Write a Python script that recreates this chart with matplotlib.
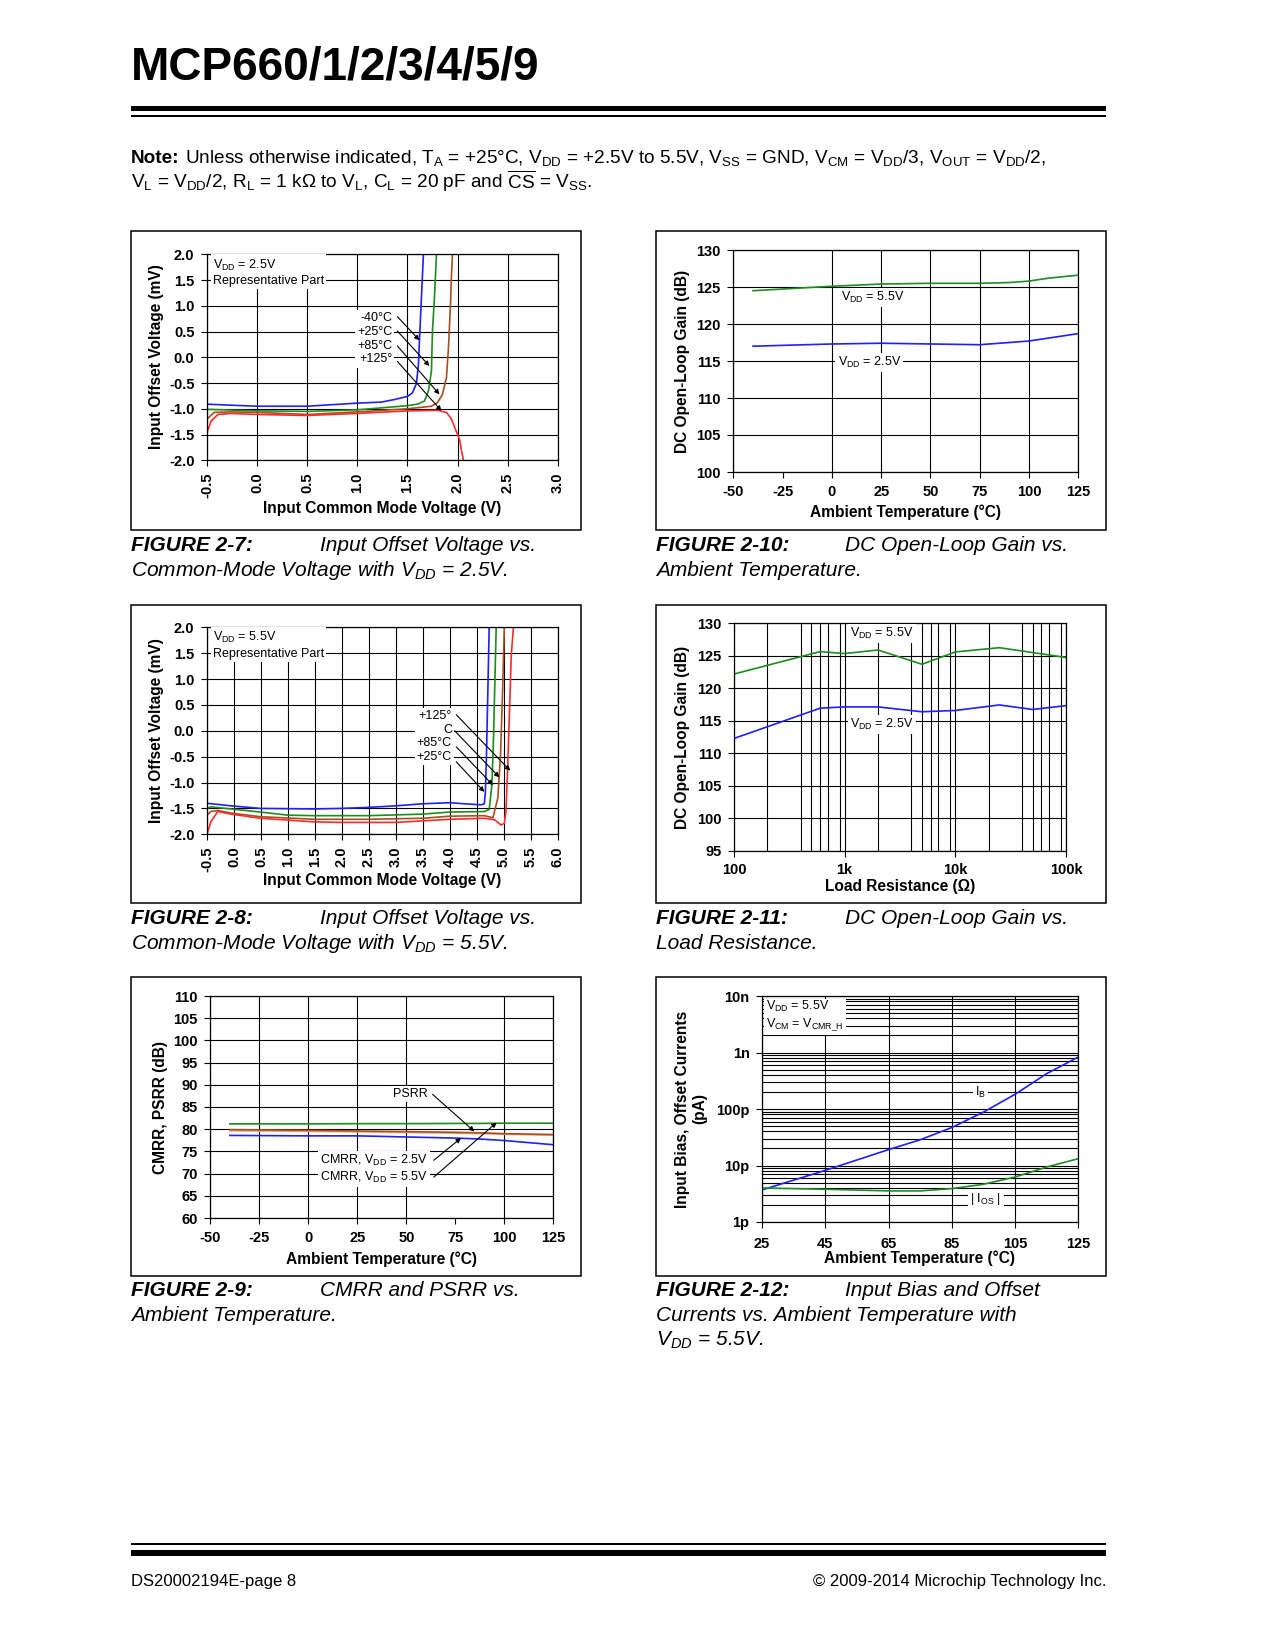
"""MCP660 datasheet page 8: six typical performance curves."""

import matplotlib
matplotlib.use("Agg")
import matplotlib.pyplot as plt  # noqa: E402
from matplotlib.patches import Rectangle  # noqa: E402

plt.rcParams["font.family"] = ["Liberation Sans", "DejaVu Sans"]
plt.rcParams["mathtext.default"] = "regular"

W, H = 1275, 1650

BLUE = "#1f1fff"
GREEN = "#1e8c1e"
BROWN = "#a5501e"
RED = "#ff2a2a"
SALMON = "#f2a07a"

# ---- Figure 2-7: Vos vs Vcm, VDD = 2.5V
f7_x_m40 = [-0.5, -0.26, 0.0, 0.5, 1.0, 1.24, 1.37, 1.5, 1.55, 1.59, 1.61, 1.62, 1.64, 1.66]
f7_y_m40 = [-0.91, -0.93, -0.95, -0.95, -0.89, -0.87, -0.82, -0.76, -0.69, -0.51, -0.14, 0.32, 1.16, 2.0]
f7_x_25 = [-0.5, 0.0, 0.5, 1.0, 1.5, 1.60, 1.67, 1.71, 1.74, 1.75, 1.77, 1.79]
f7_y_25 = [-1.01, -1.04, -1.05, -1.02, -0.94, -0.91, -0.85, -0.65, -0.27, 0.51, 1.16, 2.0]
f7_x_85 = [-0.5, -0.43, -0.26, 0.0, 0.5, 1.0, 1.5, 1.74, 1.80, 1.85, 1.89, 1.91, 1.93, 1.94, 1.95]
f7_y_85 = [-1.20, -1.07, -1.06, -1.07, -1.11, -1.06, -1.0, -0.95, -0.88, -0.72, -0.39, 0.19, 1.03, 1.61, 2.0]
f7_x_125 = [-0.5, -0.46, -0.39, -0.26, 0.0, 0.5, 1.0, 1.5, 1.80, 1.89, 1.94, 1.98, 2.02, 2.04, 2.06]
f7_y_125 = [-1.46, -1.24, -1.11, -1.09, -1.11, -1.13, -1.09, -1.04, -1.03, -1.07, -1.20, -1.40, -1.59, -1.82, -2.0]
f7_xticks = [-0.5, 0.0, 0.5, 1.0, 1.5, 2.0, 2.5, 3.0]
f7_xlabels = ["-0.5", "0.0", "0.5", "1.0", "1.5", "2.0", "2.5", "3.0"]

# ---- Figure 2-8: Vos vs Vcm, VDD = 5.5V
f8_x_m40 = [-0.5, -0.055, 0.49, 1.49, 1.98, 2.49, 3.0, 3.5, 4.0, 4.27, 4.58, 4.64, 4.66, 4.68, 4.70, 4.73]
f8_y_m40 = [-1.40, -1.45, -1.50, -1.51, -1.50, -1.48, -1.45, -1.41, -1.39, -1.41, -1.43, -1.41, -1.18, -0.47, 0.50, 2.0]
f8_x_25 = [-0.5, -0.43, -0.055, 0.49, 1.0, 1.49, 2.49, 3.5, 4.0, 4.64, 4.73, 4.78, 4.81, 4.84, 4.86]
f8_y_25 = [-1.50, -1.47, -1.51, -1.57, -1.63, -1.64, -1.64, -1.61, -1.57, -1.56, -1.52, -1.05, -0.15, 1.14, 2.0]
f8_x_85 = [-0.5, -0.43, -0.30, -0.055, 0.49, 1.49, 2.49, 3.5, 4.0, 4.64, 4.80, 4.89, 4.94, 4.98, 5.01]
f8_y_85 = [-1.63, -1.56, -1.54, -1.59, -1.66, -1.71, -1.71, -1.69, -1.65, -1.64, -1.68, -1.30, -0.47, 0.82, 2.0]
f8_x_125 = [-0.5, -0.43, -0.30, -0.055, 0.49, 1.49, 1.98, 3.0, 4.0, 4.64, 4.83, 4.95, 5.01, 5.04, 5.07, 5.11, 5.14, 5.18]
f8_y_125 = [-2.0, -1.76, -1.56, -1.61, -1.69, -1.76, -1.77, -1.77, -1.71, -1.69, -1.72, -1.82, -1.79, -1.56, -0.79, 0.50, 1.47, 2.0]
f8_xticks = [-0.5, 0.0, 0.5, 1.0, 1.5, 2.0, 2.5, 3.0, 3.5, 4.0, 4.5, 5.0, 5.5, 6.0]
f8_xlabels = ["-0.5", "0.0", "0.5", "1.0", "1.5", "2.0", "2.5", "3.0", "3.5", "4.0", "4.5", "5.0", "5.5", "6.0"]

vos_yticks = [-2.0, -1.5, -1.0, -0.5, 0.0, 0.5, 1.0, 1.5, 2.0]
vos_ylabels = ["-2.0", "-1.5", "-1.0", "-0.5", "0.0", "0.5", "1.0", "1.5", "2.0"]

# ---- Figure 2-10: Aol vs temperature
f10_temp = [-40, 0, 25, 50, 75, 90, 100, 110, 125]
f10_aol_55 = [124.5, 125.1, 125.4, 125.5, 125.5, 125.6, 125.8, 126.2, 126.6]
f10_aol_25 = [117.0, 117.3, 117.4, 117.3, 117.2, 117.5, 117.7, 118.1, 118.7]

temp_ticks = [-50, -25, 0, 25, 50, 75, 100, 125]
temp_labels = ["-50", "-25", "0", "25", "50", "75", "100", "125"]

# ---- Figure 2-11: Aol vs load resistance
f11_rl = [100, 600, 1000, 2000, 5000, 10000, 25000, 50000, 100000]
f11_aol_55 = [122.2, 125.65, 125.35, 125.9, 123.7, 125.6, 126.25, 125.5, 124.75]
f11_aol_25 = [112.3, 116.95, 117.15, 117.15, 116.4, 116.6, 117.45, 116.75, 117.35]
f11_xticks = [100, 1000, 10000, 100000]
f11_xlabels = ["100", "1k", "10k", "100k"]
f11_minor = [200, 400, 500, 600, 700, 900, 2000, 4000, 5000, 6000, 7000, 9000,
             20000, 40000, 50000, 60000, 70000, 90000]

# ---- Figure 2-9: CMRR, PSRR vs temperature
f9_temp = [-40, 0, 25, 50, 75, 87, 100, 125]
f9_cmrr_55 = [81.2, 81.2, 81.25, 81.25, 81.3, 81.3, 81.35, 81.35]
f9_psrr = [79.9, 79.75, 79.6, 79.45, 79.3, 79.2, 79.0, 78.8]
f9_psrr_b = [79.65, 79.5, 79.4, 79.25, 79.1, 79.0, 78.85, 78.65]
f9_cmrr_25 = [78.6, 78.5, 78.5, 78.25, 78.0, 77.8, 77.45, 76.5]

# ---- Figure 2-12: input bias / offset current vs temperature (pA)
f12_temp = [25, 45, 65, 75, 85, 95, 105, 115, 125]
f12_ib = [3.7, 8.2, 19.1, 28.5, 47, 88, 182, 422, 832]
f12_ios = [4.0, 3.8, 3.55, 3.55, 3.9, 4.65, 6.25, 9.4, 13.2]
f12_xticks = [25, 45, 65, 85, 105, 125]
f12_yticks = [1, 10, 100, 1000, 10000]
f12_ylabels = ["1p", "10p", "100p", "1n", "10n"]
f12_minor = [m * d for d in (1, 10, 100, 1000) for m in range(2, 10)]

TICK_FS = 10.5
LABEL_FS = 11.2


def px_box(x0, y0, x1, y1):
    return [x0 / W, 1 - y1 / H, (x1 - x0) / W, (y1 - y0) / H]


def style_axes(ax, page, xlabel, ylabel, xlab_pos, ylab_pos):
    ax.set_axisbelow(True)
    ax.grid(True, color="black", linewidth=0.8)
    for sp in ax.spines.values():
        sp.set_color("black")
        sp.set_linewidth(0.9)
    ax.tick_params(direction="out", length=4, width=0.8, labelsize=TICK_FS, pad=5)
    for lab in ax.get_xticklabels() + ax.get_yticklabels():
        lab.set_fontweight("bold")
    ax.set_xlabel(xlabel, fontsize=LABEL_FS, fontweight="bold", va="center")
    ax.xaxis.set_label_coords(*xlab_pos, transform=page.transData)
    ax.set_ylabel(ylabel, fontsize=LABEL_FS, fontweight="bold", va="center", ha="center")
    ax.yaxis.set_label_coords(*ylab_pos, transform=page.transData)


def note(ax, x, y, s, **kw):
    ax.text(x, y, s, fontsize=9, zorder=4,
            bbox=dict(facecolor="white", edgecolor="none", pad=1.5), **kw)


def arrow(ax, start, end):
    ax.annotate("", xy=end, xytext=start, zorder=4,
                arrowprops=dict(arrowstyle="-|>", color="black", lw=0.8,
                                mutation_scale=7, shrinkA=0, shrinkB=0))


fig = plt.figure(figsize=(W / 100, H / 100), dpi=100)
page = fig.add_axes([0, 0, 1, 1])
page.set_xlim(0, W)
page.set_ylim(H, 0)
page.set_axis_off()

# header
page.text(131, 79, "MCP660/1/2/3/4/5/9", fontsize=33, fontweight="bold", va="baseline")
page.add_patch(Rectangle((131, 105.5), 975, 5.5, color="black", lw=0))
page.add_patch(Rectangle((131, 115.3), 975, 2, color="black", lw=0))
page.text(131, 163, "Note:", fontsize=13.7, fontweight="bold", va="baseline")
page.text(185, 163, "Unless otherwise indicated, T$_A$ = +25°C, V$_{DD}$ = +2.5V to 5.5V, "
          "V$_{SS}$ = GND, V$_{CM}$ = V$_{DD}$/3, V$_{OUT}$ = V$_{DD}$/2,",
          fontsize=13.7, va="baseline")
page.text(131, 188, "V$_L$ = V$_{DD}$/2, R$_L$ = 1 kΩ to V$_L$, C$_L$ = 20 pF and "
          r"$\overline{CS}$ = V$_{SS}$.", fontsize=13.7, va="baseline")

# chart frames
for fx, fy in [(131, 231), (656, 231), (131, 605), (656, 605), (131, 977), (656, 977)]:
    page.add_patch(Rectangle((fx, fy), 450, 299 if fy != 605 else 298,
                             fill=False, edgecolor="black", lw=1.1))

# captions
captions = [
    (131, 551, "FIGURE 2-7:", "Input Offset Voltage vs.",
     ["Common-Mode Voltage with V$_{DD}$ = 2.5V."]),
    (656, 551, "FIGURE 2-10:", "DC Open-Loop Gain vs.", ["Ambient Temperature."]),
    (131, 924, "FIGURE 2-8:", "Input Offset Voltage vs.",
     ["Common-Mode Voltage with V$_{DD}$ = 5.5V."]),
    (656, 924, "FIGURE 2-11:", "DC Open-Loop Gain vs.", ["Load Resistance."]),
    (131, 1296, "FIGURE 2-9:", "CMRR and PSRR vs.", ["Ambient Temperature."]),
    (656, 1296, "FIGURE 2-12:", "Input Bias and Offset",
     ["Currents vs. Ambient Temperature with", "V$_{DD}$ = 5.5V."]),
]
for cx, cy, head, first, rest in captions:
    page.text(cx, cy, head, fontsize=15, fontweight="bold", style="italic", va="baseline")
    page.text(cx + 189, cy, first, fontsize=15, style="italic", va="baseline")
    for i, line in enumerate(rest):
        page.text(cx, cy + 25 * (i + 1), line, fontsize=15, style="italic", va="baseline")

# footer
page.add_patch(Rectangle((131, 1543), 975, 2, color="black", lw=0))
page.add_patch(Rectangle((131, 1550), 975, 5.5, color="black", lw=0))
page.text(131, 1586, "DS20002194E-page 8", fontsize=12, va="baseline")
page.text(1106, 1586, "© 2009-2014 Microchip Technology Inc.", fontsize=12,
          va="baseline", ha="right")

# ---------------- Figure 2-7
ax = fig.add_axes(px_box(207, 254.3, 557.7, 460.3))
ax.plot(f7_x_m40, f7_y_m40, color=BLUE, lw=1.2)
ax.plot(f7_x_25, f7_y_25, color=GREEN, lw=1.2)
ax.plot(f7_x_85, f7_y_85, color=BROWN, lw=1.2)
ax.plot(f7_x_125, f7_y_125, color=RED, lw=1.2)
ax.set_xlim(-0.5, 3.0)
ax.set_ylim(-2.0, 2.0)
ax.set_xticks(f7_xticks, f7_xlabels, rotation=90)
ax.set_yticks(vos_yticks, vos_ylabels)
style_axes(ax, page, "Input Common Mode Voltage (V)", "Input Offset Voltage (mV)",
           (382, 508.7), (156, 357))
note(ax, -0.44, 1.65, "V$_{DD}$ = 2.5V\nRepresentative Part", va="center", linespacing=1.25)
note(ax, 1.35, 0.36, "-40°C\n+25°C\n+85°C\n+125°", va="center", ha="right",
     multialignment="right", linespacing=1.2)
arrow(ax, (1.40, 0.79), (1.62, 0.33))
arrow(ax, (1.40, 0.51), (1.72, -0.17))
arrow(ax, (1.40, 0.22), (1.82, -0.72))
arrow(ax, (1.40, -0.08), (1.84, -1.04))

# ---------------- Figure 2-8
ax = fig.add_axes(px_box(207, 627.3, 557.7, 834.3))
ax.plot(f8_x_m40, f8_y_m40, color=BLUE, lw=1.2)
ax.plot(f8_x_25, f8_y_25, color=GREEN, lw=1.2)
ax.plot(f8_x_85, f8_y_85, color=BROWN, lw=1.2)
ax.plot(f8_x_125, f8_y_125, color=RED, lw=1.2)
ax.set_xlim(-0.5, 6.0)
ax.set_ylim(-2.0, 2.0)
ax.set_xticks(f8_xticks, f8_xlabels, rotation=90)
ax.set_yticks(vos_yticks, vos_ylabels)
style_axes(ax, page, "Input Common Mode Voltage (V)", "Input Offset Voltage (mV)",
           (382, 881), (156, 731))
note(ax, -0.395, 1.66, "V$_{DD}$ = 5.5V\nRepresentative Part", va="center", linespacing=1.25)
note(ax, 4.04, -0.11, "+125°\nC\n+85°C\n+25°C", va="center", ha="right",
     multialignment="right", linespacing=1.2)
arrow(ax, (4.12, 0.31), (5.12, -0.77))
arrow(ax, (4.09, 0.0), (4.92, -0.90))
arrow(ax, (4.12, -0.31), (4.80, -1.05))
arrow(ax, (4.12, -0.60), (4.64, -1.18))

# ---------------- Figure 2-9
ax = fig.add_axes(px_box(210.3, 996, 553.3, 1218))
ax.plot(f9_temp, f9_cmrr_55, color=GREEN, lw=1.2)
ax.plot(f9_temp, f9_psrr_b, color=SALMON, lw=1.2)
ax.plot(f9_temp, f9_psrr, color=BROWN, lw=1.2)
ax.plot(f9_temp, f9_cmrr_25, color=BLUE, lw=1.2)
ax.set_xlim(-50, 125)
ax.set_ylim(60, 110)
ax.set_xticks(temp_ticks, temp_labels)
ax.set_yticks(range(60, 111, 5))
style_axes(ax, page, "Ambient Temperature (°C)", "CMRR, PSRR (dB)",
           (382, 1259.3), (161, 1107))
for gl, t in zip(ax.get_xgridlines(), temp_ticks):
    if t == 75:
        gl.set_visible(False)
note(ax, 61, 87.85, "PSRR", va="center", ha="right")
note(ax, 61, 73.0, "CMRR, V$_{DD}$ = 2.5V", va="center", ha="right")
note(ax, 61, 69.2, "CMRR, V$_{DD}$ = 5.5V", va="center", ha="right")
arrow(ax, (63.4, 87.85), (84.7, 79.5))
arrow(ax, (64, 73.0), (77.9, 78.0))
arrow(ax, (64, 69.2), (96.1, 81.5))

# ---------------- Figure 2-10
ax = fig.add_axes(px_box(733.3, 250, 1078.3, 472))
ax.plot(f10_temp, f10_aol_55, color=GREEN, lw=1.2)
ax.plot(f10_temp, f10_aol_25, color=BLUE, lw=1.2)
ax.set_xlim(-50, 125)
ax.set_ylim(100, 130)
ax.set_xticks(temp_ticks, temp_labels)
ax.set_yticks(range(100, 131, 5))
style_axes(ax, page, "Ambient Temperature (°C)", "DC Open-Loop Gain (dB)",
           (906, 512.7), (682.7, 361))
for gl, t in zip(ax.get_xgridlines(), temp_ticks):
    if t == -25:
        gl.set_visible(False)
note(ax, 4.6, 123.6, "V$_{DD}$ = 5.5V", va="center")
note(ax, 2.9, 114.8, "V$_{DD}$ = 2.5V", va="center")

# ---------------- Figure 2-11
ax = fig.add_axes(px_box(734, 623.3, 1066, 851))
ax.plot(f11_rl, f11_aol_55, color=GREEN, lw=1.2)
ax.plot(f11_rl, f11_aol_25, color=BLUE, lw=1.2)
ax.set_xscale("log")
ax.set_xlim(100, 100000)
ax.set_ylim(95, 130)
ax.set_xticks(f11_xticks, f11_xlabels)
ax.set_xticks(f11_minor, minor=True)
ax.set_yticks(range(95, 131, 5))
style_axes(ax, page, "Load Resistance (Ω)", "DC Open-Loop Gain (dB)",
           (900, 886), (682.7, 737))
ax.grid(True, which="minor", axis="x", color="black", linewidth=0.8)
ax.tick_params(which="minor", length=0)
ax.set_xticklabels([], minor=True)
note(ax, 1125, 128.46, "V$_{DD}$ = 5.5V", va="center")
note(ax, 1125, 114.4, "V$_{DD}$ = 2.5V", va="center")

# ---------------- Figure 2-12
ax = fig.add_axes(px_box(762, 996, 1078.3, 1222))
ax.plot(f12_temp, f12_ib, color=BLUE, lw=1.2)
ax.plot(f12_temp, f12_ios, color=GREEN, lw=1.2)
ax.set_yscale("log")
ax.set_xlim(25, 125)
ax.set_ylim(1, 10000)
ax.set_xticks(f12_xticks)
ax.set_yticks(f12_yticks, f12_ylabels)
ax.set_yticks(f12_minor, minor=True)
style_axes(ax, page, "Ambient Temperature (°C)", "Input Bias, Offset Currents\n(pA)",
           (920, 1258.7), (691, 1109))
ax.grid(True, which="minor", axis="y", color="black", linewidth=0.8)
ax.tick_params(which="minor", length=0)
ax.set_yticklabels([], minor=True)
ax.tick_params(axis="x", pad=7)
note(ax, 26.3, 4400, "V$_{DD}$ = 5.5V\nV$_{CM}$ = V$_{CMR\\_H}$", va="center", linespacing=1.25)
note(ax, 94.2, 194, "I$_B$", va="center", ha="center")
note(ax, 95.8, 2.59, "| I$_{OS}$ |", va="center", ha="center")

fig.savefig("out.png", dpi=100, facecolor="white")
plt.close(fig)
